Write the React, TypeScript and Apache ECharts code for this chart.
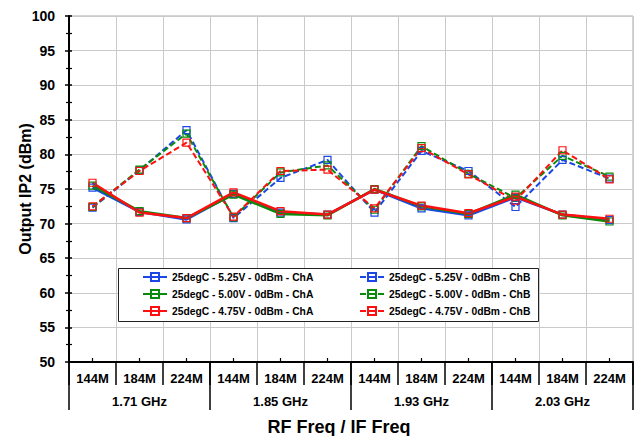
import React, { useEffect, useRef } from 'react';
import * as echarts from 'echarts';

const categories = ['144M', '184M', '224M', '144M', '184M', '224M', '144M', '184M', '224M', '144M', '184M', '224M'];
const groups = ['1.71 GHz', '1.85 GHz', '1.93 GHz', '2.03 GHz'];

const blueA = [75.2, 71.7, 70.6, 74.3, 71.6, 71.3, 74.9, 72.2, 71.2, 73.8, 71.3, 70.5];
const greenA = [75.5, 71.8, 70.8, 74.2, 71.4, 71.2, 75.0, 72.5, 71.4, 74.2, 71.2, 70.3];
const redA = [75.9, 71.6, 70.8, 74.5, 71.8, 71.3, 74.9, 72.6, 71.5, 73.9, 71.3, 70.7];
const blueB = [72.3, 77.7, 83.5, 70.8, 76.6, 79.2, 71.6, 80.5, 77.6, 72.4, 79.2, 76.5];
const greenB = [72.4, 77.8, 83.0, 70.9, 77.4, 78.4, 72.0, 81.2, 77.2, 73.7, 79.8, 76.8];
const redB = [72.5, 77.6, 81.7, 71.0, 77.6, 77.8, 72.2, 80.9, 77.1, 73.3, 80.6, 76.4];

const names = {
  blueA: '25degC - 5.25V - 0dBm - ChA',
  blueB: '25degC - 5.25V - 0dBm - ChB',
  greenA: '25degC - 5.00V - 0dBm - ChA',
  greenB: '25degC - 5.00V - 0dBm - ChB',
  redA: '25degC - 4.75V - 0dBm - ChA',
  redB: '25degC - 4.75V - 0dBm - ChB',
};

const BLUE = '#1a47e6';
const GREEN = '#0a8a0a';
const RED = '#ff1010';
const FONT = '"Liberation Sans", Arial, sans-serif';

function mk(name: string, data: number[], color: string, dashed: boolean) {
  return {
    type: 'line',
    name,
    data,
    xAxisIndex: 0,
    yAxisIndex: 0,
    symbol: 'rect',
    symbolSize: 7,
    showSymbol: true,
    lineStyle: { color, width: dashed ? 2 : 2.5, type: dashed ? [6, 3] : 'solid' },
    itemStyle: { color: 'rgba(255,255,255,0)', borderColor: color, borderWidth: 1.2 },
    emphasis: { disabled: true },
  };
}

export default function App() {
  const ref = useRef<HTMLDivElement>(null);
  useEffect(() => {
    const chart = echarts.init(ref.current as HTMLDivElement, null, { renderer: 'svg' });
    const labelStyle = { fontFamily: FONT, fontWeight: 'bold' as const, color: '#000' };
    chart.setOption({
      animation: false,
      backgroundColor: '#fff',
      grid: {
        left: 69, right: 6, top: 16, bottom: 74,
        show: true, borderColor: '#a8a8a8', borderWidth: 1,
        containLabel: false, outerBoundsMode: 'none',
      },
      xAxis: [
        {
          type: 'category', data: categories, position: 'bottom', boundaryGap: true,
          axisLine: { show: true, lineStyle: { color: '#000', width: 2 } },
          axisTick: { show: true, interval: 0, length: 23, lineStyle: { color: '#000', width: 1.5 } },
          axisLabel: { interval: 0, margin: 10, fontSize: 13, ...labelStyle },
          splitLine: { show: true, interval: 0, lineStyle: { color: '#cacaca', width: 1 } },
        },
        {
          type: 'category', data: groups, position: 'bottom', boundaryGap: true,
          axisLine: { show: false },
          axisTick: { show: true, interval: 0, length: 48, lineStyle: { color: '#000', width: 1.5 } },
          axisLabel: { interval: 0, margin: 33, fontSize: 13, ...labelStyle },
          splitLine: { show: false },
          name: 'RF Freq / IF Freq', nameLocation: 'middle', nameGap: 56, nameMoveOverlap: false,
          nameTextStyle: { fontSize: 18, padding: [0, 24, 0, 0], ...labelStyle },
        },
        {
          type: 'category', data: categories, position: 'bottom', boundaryGap: true,
          axisLine: { show: false },
          axisTick: { show: true, interval: 0, alignWithLabel: true, inside: true, length: 4, lineStyle: { color: '#000', width: 1.2 } },
          axisLabel: { show: false },
          splitLine: { show: false },
        },
      ],
      yAxis: [
        {
          type: 'value', min: 50, max: 100, interval: 5, position: 'left',
          axisLine: { show: true, lineStyle: { color: '#000', width: 2 } },
          axisTick: { show: true, length: 4, lineStyle: { color: '#000', width: 1.5 } },
          minorTick: { show: true, splitNumber: 2, length: 3, lineStyle: { color: '#000', width: 1.2 } },
          axisLabel: { margin: 14, fontSize: 14, ...labelStyle },
          splitLine: { show: true, lineStyle: { color: '#cacaca', width: 1 } },
          name: 'Output IP2 (dBm)', nameLocation: 'middle', nameGap: 36, nameMoveOverlap: false,
          nameTextStyle: { fontSize: 16, ...labelStyle },
        },
        {
          type: 'value', min: 50, max: 100, interval: 5, position: 'left',
          axisLine: { show: false },
          axisTick: { show: true, inside: true, length: 3, lineStyle: { color: '#000', width: 1.5 } },
          minorTick: { show: true, splitNumber: 2, length: 3, lineStyle: { color: '#000', width: 1.2 } },
          axisLabel: { show: false },
          splitLine: { show: false },
        },
      ],
      graphic: [
        {
          type: 'rect', x: 118.5, y: 268.5, z: 5,
          shape: { width: 420, height: 53 },
          style: { fill: '#fff', stroke: '#222', lineWidth: 1 },
        },
      ],
      legend: [
        {
          data: [names.blueA, names.greenA, names.redA],
          orient: 'vertical', left: 142, top: 272, padding: 0,
          itemWidth: 24, itemHeight: 10, itemGap: 7, z: 10, selectedMode: false,
          textStyle: { fontSize: 10.3, ...labelStyle },
        },
        {
          data: [names.blueB, names.greenB, names.redB],
          orient: 'vertical', left: 359, top: 272, padding: 0,
          itemWidth: 24, itemHeight: 10, itemGap: 7, z: 10, selectedMode: false,
          textStyle: { fontSize: 10.3, ...labelStyle },
        },
      ],
      series: [
        mk(names.blueB, blueB, BLUE, true),
        mk(names.greenB, greenB, GREEN, true),
        mk(names.redB, redB, RED, true),
        mk(names.blueA, blueA, BLUE, false),
        mk(names.greenA, greenA, GREEN, false),
        mk(names.redA, redA, RED, false),
      ],
    });
    return () => chart.dispose();
  }, []);
  return (
    <div
      ref={ref}
      style={{ position: 'fixed', left: 0, top: 0, width: 639, height: 436, background: '#fff' }}
    />
  );
}
